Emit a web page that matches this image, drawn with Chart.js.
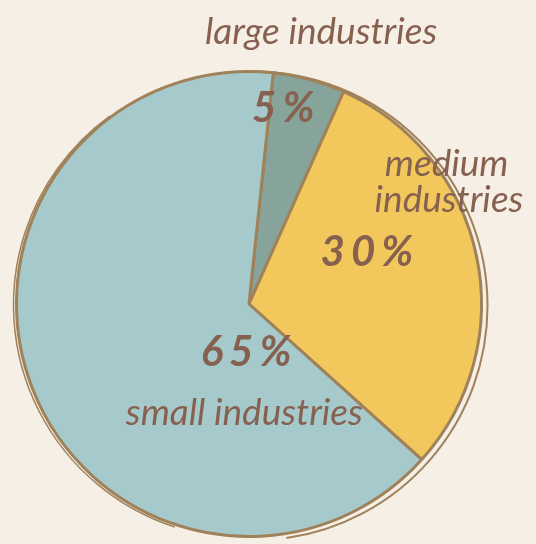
<!DOCTYPE html>
<html>
<head>
<meta charset="utf-8">
<script src="https://cdn.jsdelivr.net/npm/chart.js@4/dist/chart.umd.min.js"></script>
<style>
  html, body { margin: 0; padding: 0; background: #f5efe6; }
  #wrap { width: 536px; height: 544px; }
</style>
</head>
<body>
<div id="wrap"><canvas id="pie" width="536" height="544"></canvas></div>
<script>
// --- Data ---
const CATEGORIES = ['large industries', 'medium industries', 'small industries'];
const SHARES = [5, 30, 65];
const SLICE_COLORS = ['#86a49a', '#f2c75c', '#a6c9cc'];

const TEXT_COLOR = '#87614f';
const OUTLINE = '#a0825a';
const FONT = 'Lato, "Noto Sans", sans-serif';

// label placement, as fractions of the pie radius from its centre
const NAME_SPOTS = [
    [{ t: 'large industries', dx: 0.31, dy: -1.17 }],
    [{ t: 'medium', dx: 0.85, dy: -0.60 }, { t: 'industries', dx: 0.86, dy: -0.445 }],
    [{ t: 'small industries', dx: -0.02, dy: 0.47 }]
];
const PCT_SPOTS = [
    { dx: 0.16, dy: -0.84 },
    { dx: 0.52, dy: -0.22 },
    { dx: 0.0, dy: 0.21 }
];

// --- Sketchy outer ring ---
const sketchRing = {
    id: 'sketchRing',
    afterDatasetsDraw(chart) {
        const ctx = chart.ctx;
        const a = chart.getDatasetMeta(0).data[0];
        ctx.save();
        ctx.strokeStyle = OUTLINE;
        ctx.lineWidth = 2;
        ctx.beginPath();
        ctx.arc(a.x + 4, a.y + 2, a.outerRadius + 2, -Math.PI / 2, Math.PI / 2.2);
        ctx.stroke();
        ctx.lineWidth = 1.5;
        ctx.beginPath();
        ctx.arc(a.x - 2, a.y + 1, a.outerRadius + 1, Math.PI * 0.6, Math.PI * 1.3);
        ctx.stroke();
        ctx.restore();
    }
};

// --- Label plugin ---
const sketchLabels = {
    id: 'sketchLabels',
    afterDatasetsDraw(chart) {
        const ctx = chart.ctx;
        const arcs = chart.getDatasetMeta(0).data;
        const cx = arcs[0].x, cy = arcs[0].y, r = arcs[0].outerRadius;
        ctx.save();
        ctx.fillStyle = TEXT_COLOR;
        ctx.textAlign = 'center';
        ctx.textBaseline = 'middle';

        ctx.font = 'italic 37px ' + FONT;
        NAME_SPOTS.forEach(lines => {
            lines.forEach(l => ctx.fillText(l.t, cx + l.dx * r, cy + l.dy * r));
        });

        ctx.font = 'italic bold 42px ' + FONT;
        ctx.letterSpacing = '6px';
        SHARES.forEach((v, i) => {
            const p = PCT_SPOTS[i];
            ctx.fillText(v + '%', cx + p.dx * r, cy + p.dy * r);
        });
        ctx.restore();
    }
};

new Chart(document.getElementById('pie'), {
    type: 'pie',
    data: {
        labels: CATEGORIES,
        datasets: [{
            data: SHARES,
            backgroundColor: SLICE_COLORS,
            borderColor: OUTLINE,
            borderWidth: 3
        }]
    },
    options: {
        responsive: false,
        animation: false,
        rotation: 6,
        layout: { padding: { left: 15, top: 68, right: 53, bottom: 4 } },
        plugins: {
            legend: { display: false },
            tooltip: { enabled: false }
        }
    },
    plugins: [sketchRing, sketchLabels]
});
</script>
</body>
</html>
